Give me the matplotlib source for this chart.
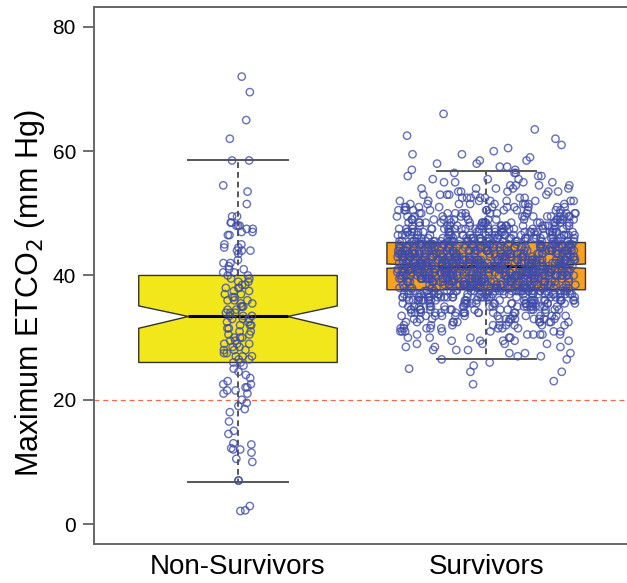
import numpy as np
import matplotlib
matplotlib.use('Agg')
import matplotlib.pyplot as plt

plt.rcParams['font.family'] = ['Liberation Sans', 'DejaVu Sans']

groups = ['Non-Survivors', 'Survivors']
box_colors = ['#f2e71b', '#f8a21c']

# box statistics
medians = [33.4, 41.5]
q1s = [26.0, 37.7]
q3s = [40.0, 45.3]
whisk_lo = [6.8, 26.5]
whisk_hi = [58.5, 56.8]
notch_lo = [31.5, 41.15]
notch_hi = [35.1, 41.85]

# non-survivor points (mm Hg)
non_survivors = [
    72, 69.5, 65, 62, 58.5, 58.5, 54.5, 53.5, 51.5, 49.5, 49.5, 48.5, 48.5,
    48, 48, 48, 47.5, 47.5, 47, 47, 46.5, 46.5, 45, 45, 44.5, 44.5, 44, 44,
    44, 43.5, 42.5, 42, 42, 41.5, 41, 41, 40.5, 40.5,
    40, 40, 39.5, 39.5, 39, 39, 38.5, 38.5, 38, 38, 38, 37.5, 37.5, 37, 37,
    36.5, 36.5, 36, 36, 36, 35.5, 35.5, 35, 35, 35, 34.5, 34.5, 34, 34, 34,
    33.5, 33.5, 33.5, 33, 33, 33, 32.5, 32.5, 32, 32, 32, 31.5, 31.5, 31, 31,
    30.5, 30.5, 30, 30, 30, 29.5, 29.5, 29, 29, 29, 28.5, 28.5, 28, 28, 28,
    27.5, 27.5, 27, 27, 27, 26.5, 26.5, 26, 26,
    25.5, 25, 24.5, 24, 23.5, 23, 22.5, 22.5, 22, 22, 21.5, 21.5, 21, 21,
    20, 19.5, 19, 18.5, 18, 16.5, 15, 14.5, 13, 12.8, 12, 12, 12.2, 11.5,
    10.5, 10, 7, 7, 2.9, 2.2, 2.1,
]

# survivor points: count per 0.5 mm Hg bin, bins 22.0 .. 66.0
surv_bins = np.arange(22.0, 66.5, 0.5)
surv_counts = [
    0, 1, 1, 0, 0, 2, 1, 1,          # 22.0 - 25.5
    1, 2, 2, 3, 3, 3, 4, 5,          # 26.0 - 29.5
    5, 6, 7, 8, 9, 11, 12, 13,       # 30.0 - 33.5
    15, 17, 19, 21, 24, 26, 28, 31,  # 34.0 - 37.5
    33, 36, 38, 40, 42, 43, 44, 45,  # 38.0 - 41.5
    44, 43, 42, 40, 37, 35, 33, 30,  # 42.0 - 45.5
    29, 27, 25, 22, 20, 18, 16, 15,  # 46.0 - 49.5
    13, 12, 10, 9, 8, 7, 6, 5,       # 50.0 - 53.5
    5, 4, 4, 3, 3, 3, 2, 2,          # 54.0 - 57.5
    2, 2, 1, 2, 1, 1, 1, 0,          # 58.0 - 61.5
    1, 1, 0, 1, 0, 0, 0, 0, 1,       # 62.0 - 66.0
]
survivors = np.repeat(surv_bins, surv_counts)

fig = plt.figure(figsize=(6.27, 5.83), dpi=100)
ax = fig.add_axes([0.150, 0.067, 0.855, 0.921])

stats = []
for i in range(2):
    stats.append({'med': medians[i], 'q1': q1s[i], 'q3': q3s[i],
                  'whislo': whisk_lo[i], 'whishi': whisk_hi[i],
                  'cilo': notch_lo[i], 'cihi': notch_hi[i], 'fliers': []})

bp = ax.bxp(stats, positions=[1, 2], widths=0.8, shownotches=True,
            patch_artist=True, showfliers=False,
            boxprops=dict(edgecolor='#333333', linewidth=1.0),
            medianprops=dict(color='black', linewidth=2.2),
            whiskerprops=dict(color='#555555', linewidth=1.4, linestyle=(0, (3, 2))),
            capprops=dict(color='#555555', linewidth=1.4))
for patch, c in zip(bp['boxes'], box_colors):
    patch.set_facecolor(c)

ax.axhline(20, color='#f26a4b', linewidth=0.9, linestyle=(0, (4, 3)), zorder=2)

rng = np.random.default_rng(7)
x_ns = 1 + rng.uniform(-0.06, 0.06, len(non_survivors))
x_s = 2 + rng.uniform(-0.36, 0.36, len(survivors))
pt = dict(s=28, facecolors='none', edgecolors='#3f4ca8', linewidths=1.0,
          alpha=0.8, zorder=4)
ax.scatter(x_ns, non_survivors, **pt)
ax.scatter(x_s, survivors, **pt)

ax.set_xlim(0.42, 2.58)
ax.set_ylim(-3.2, 83.2)
ax.set_yticks([0, 20, 40, 60, 80])
ax.set_xticks([1, 2])
ax.set_xticklabels(groups, fontsize=20)
ax.tick_params(axis='x', length=0, pad=7)
ax.tick_params(axis='y', labelsize=15, length=8, width=1.2, color='#555555', pad=5)
ax.set_ylabel('Maximum ETCO$_2$ (mm Hg)', fontsize=22)
ax.yaxis.set_label_coords(-0.088, 0.467)
for s in ax.spines.values():
    s.set_color('#666666')
    s.set_linewidth(1.4)
ax.spines['right'].set_visible(False)

fig.savefig('out.png', dpi=100)
